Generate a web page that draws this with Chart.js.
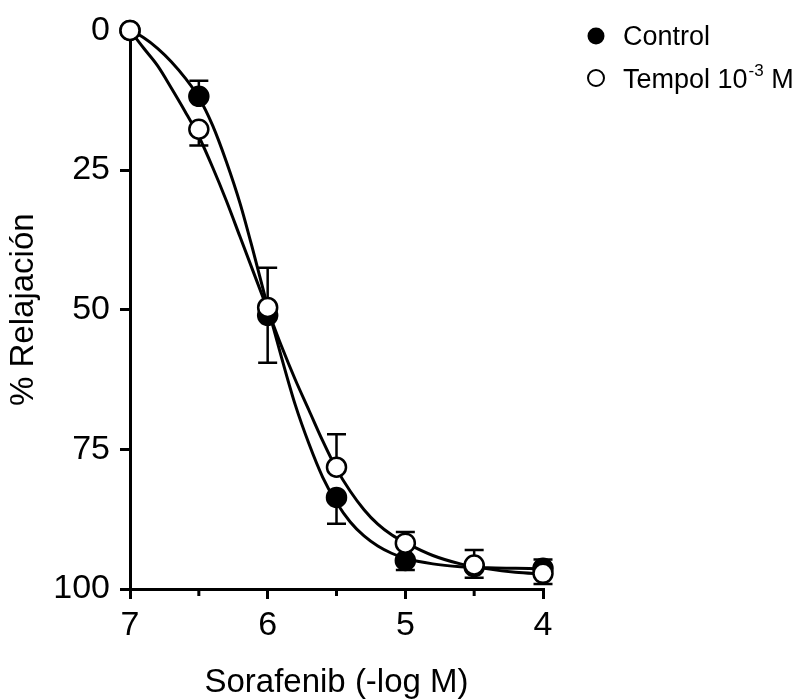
<!DOCTYPE html>
<html>
<head>
<meta charset="utf-8">
<script src="https://cdn.jsdelivr.net/npm/chart.js@4.4.1/dist/chart.umd.min.js"></script>
<style>
  body { margin: 0; background: #fff; }
</style>
</head>
<body>
<canvas id="myChart" width="805" height="699"></canvas>
<script>
// measured points (mean, error bar up / down in % units)
const doses = [7, 6.5, 6, 5.5, 5, 4.5, 4];
const controlMean = [0, 11.8, 51, 83.6, 94.9, 96, 96.3];
const controlErrUp = [0, 2.8, 8.5, 0, 0, 0, 0];
const controlErrDown = [0, 0, 8.5, 4.7, 1.7, 0, 0];
const tempolMean = [0, 17.7, 49.6, 78.2, 91.8, 95.7, 97.2];
const tempolErrUp = [0, 0, 0, 5.9, 2, 2.7, 2.5];
const tempolErrDown = [0, 2.9, 0, 0, 0, 2.3, 1.9];

// fitted curves
const fitDoses = [7.0, 6.9, 6.8, 6.7, 6.6, 6.5, 6.4, 6.3, 6.2, 6.1, 6.0, 5.9, 5.8, 5.7, 5.6, 5.5, 5.4, 5.3, 5.2, 5.1, 5.0, 4.8, 4.6, 4.4, 4.2, 4.0];
const controlFit = [0, 1.3, 3.2, 5.6, 8.5, 12, 17, 23.5, 31, 40, 49.5, 58.5, 67, 74, 80, 84.5, 88, 90.5, 92.3, 93.6, 94.5, 95.5, 96, 96.2, 96.3, 96.4];
const tempolFit = [0, 3.2, 6.3, 10.3, 14.5, 19, 24.5, 30.5, 37, 43.5, 50, 56.5, 62.5, 68, 73.5, 78.5, 82.5, 85.8, 88.4, 90.3, 91.7, 94, 95.5, 96.4, 97, 97.3];

const yTicks = [0, 25, 50, 75, 100];
const seriesNames = ['Control', 'Tempol 10', '-3', ' M'];

var FONT = '"Liberation Sans", Arial, sans-serif';

function toXY(xs, ys) {
  return xs.map(function (x, i) { return { x: x, y: ys[i] }; });
}

//-----------------------------------------------
var errorBars = {
  id: 'errorBars',
  beforeDatasetsDraw: function (chart) {
    var c = chart.ctx;
    var xs = chart.scales.x, ys = chart.scales.y;
    var sets = [
      [controlMean, controlErrUp, controlErrDown],
      [tempolMean, tempolErrUp, tempolErrDown]
    ];
    c.save();
    c.strokeStyle = '#000';
    c.lineWidth = 2.5;
    sets.forEach(function (s) {
      doses.forEach(function (d, i) {
        var px = xs.getPixelForValue(d);
        var y0 = ys.getPixelForValue(s[0][i]);
        [[s[1][i], -1], [s[2][i], 1]].forEach(function (e) {
          if (!e[0]) return;
          var y1 = ys.getPixelForValue(s[0][i] + e[1] * e[0]);
          c.beginPath();
          c.moveTo(px, y0);
          c.lineTo(px, y1);
          c.moveTo(px - 9.5, y1);
          c.lineTo(px + 9.5, y1);
          c.stroke();
        });
      });
    });
    c.restore();
  }
};

var minorTicks = {
  id: 'minorTicks',
  afterDraw: function (chart) {
    var c = chart.ctx, xs = chart.scales.x;
    var bottom = chart.chartArea.bottom;
    c.save();
    c.strokeStyle = '#000';
    c.lineWidth = 3;
    for (var v = xs.min + 0.5; v < xs.max; v += 1) {
      var px = xs.getPixelForValue(v);
      c.beginPath();
      c.moveTo(px, bottom);
      c.lineTo(px, bottom + 7);
      c.stroke();
    }
    c.restore();
  }
};

var legendBox = {
  id: 'legendBox',
  afterDraw: function (chart) {
    var c = chart.ctx;
    c.save();
    c.fillStyle = '#000';
    c.strokeStyle = '#000';
    c.lineWidth = 2;
    // Control
    c.beginPath();
    c.arc(596, 36, 8.5, 0, Math.PI * 2);
    c.fill();
    c.font = '27px ' + FONT;
    c.textBaseline = 'alphabetic';
    c.fillText(seriesNames[0], 623, 45);
    // Tempol
    c.beginPath();
    c.arc(596, 78, 8, 0, Math.PI * 2);
    c.fillStyle = '#fff';
    c.fill();
    c.stroke();
    c.fillStyle = '#000';
    var x = 623;
    c.fillText(seriesNames[1], x, 88);
    x += c.measureText(seriesNames[1]).width;
    c.font = '17px ' + FONT;
    c.fillText(seriesNames[2], x + 1, 76);
    x += c.measureText(seriesNames[2]).width + 1;
    c.font = '27px ' + FONT;
    c.fillText(seriesNames[3], x, 88);
    c.restore();
  }
};

//-----------------------------------------------
var ctx = document.getElementById('myChart').getContext('2d');
var myChart = new Chart(ctx, {
  type: 'scatter',
  data: {
    datasets: [{
      label: 'Tempol',
      data: toXY(doses, tempolMean),
      pointRadius: 9.5,
      pointBorderWidth: 2.5,
      pointBackgroundColor: '#fff',
      pointBorderColor: '#000',
      clip: false
    }, {
      label: 'Control',
      data: toXY(doses, controlMean),
      pointRadius: 9.5,
      pointBorderWidth: 2.5,
      pointBackgroundColor: '#000',
      pointBorderColor: '#000',
      clip: false
    }, {
      type: 'line',
      label: 'Control fit',
      data: toXY(fitDoses, controlFit),
      borderColor: '#000',
      borderWidth: 3,
      pointRadius: 0,
      cubicInterpolationMode: 'monotone',
      fill: false,
      clip: false
    }, {
      type: 'line',
      label: 'Tempol fit',
      data: toXY(fitDoses, tempolFit),
      borderColor: '#000',
      borderWidth: 3,
      pointRadius: 0,
      cubicInterpolationMode: 'monotone',
      fill: false,
      clip: false
    }]
  },
  options: {
    responsive: false,
    animation: false,
    layout: { padding: { top: 25, right: 262, left: 0, bottom: 0 } },
    plugins: {
      legend: { display: false },
      tooltip: { enabled: false }
    },
    scales: {
      x: {
        type: 'linear',
        position: 'bottom',
        min: 4,
        max: 7,
        reverse: true,
        afterFit: function (scale) { scale.height = 110; },
        ticks: { stepSize: 1, color: '#000', font: { family: FONT, size: 34 }, padding: 6 },
        grid: { display: true, drawOnChartArea: false, drawTicks: true, tickLength: 10, color: '#000', lineWidth: 3 },
        border: { display: true, color: '#000', width: 3 },
        title: { display: true, text: 'Sorafenib (-log M)', color: '#000', font: { family: FONT, size: 33, lineHeight: 1 }, padding: { top: 12, bottom: 0 } }
      },
      y: {
        type: 'linear',
        min: 0,
        max: 100,
        reverse: true,
        afterFit: function (scale) { scale.width = 130; },
        afterBuildTicks: function (scale) { scale.ticks = yTicks.map(function (v) { return { value: v }; }); },
        ticks: { color: '#000', font: { family: FONT, size: 34 }, padding: 10 },
        grid: { display: true, drawOnChartArea: false, drawTicks: true, tickLength: 10, color: '#000', lineWidth: 3 },
        border: { display: true, color: '#000', width: 3 },
        title: { display: true, text: '% Relajación', color: '#000', font: { family: FONT, size: 33 }, padding: { bottom: 6 } }
      }
    }
  },
  plugins: [errorBars, minorTicks, legendBox]
});
</script>
</body>
</html>
